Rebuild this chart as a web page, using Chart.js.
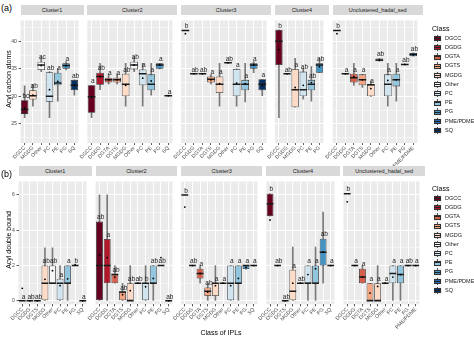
<!DOCTYPE html>
<html>
<head>
<meta charset="utf-8">
<script src="https://cdn.jsdelivr.net/npm/chart.js@4/dist/chart.umd.min.js"></script>
<style>
  body { margin: 0; background: #fff; font-family: "Liberation Sans", Arial, sans-serif; }
  #fig { position: relative; width: 474px; height: 340px; overflow: hidden; }
  #fig canvas { position: absolute; }
  .strip { position: absolute; background: #d9d9d9; color: #1a1a1a; font-size: 5.5px; text-align: center; white-space: nowrap; }
  .txt { position: absolute; color: #000; white-space: nowrap; }
  .ytitle { position: absolute; font-size: 7px; color: #000; white-space: nowrap; transform: translate(-50%, -50%) rotate(-90deg); }
  .key { position: absolute; width: 8px; height: 8.5px; background: #f2f2f2; }
  .key .wh { position: absolute; left: 3.5px; top: 0.8px; width: 1px; height: 7px; background: #555; }
  .key .bx { position: absolute; left: 0.6px; top: 2px; width: 5.4px; height: 3.2px; border: 0.8px solid #333; }
  .key .md { position: absolute; left: 0.6px; top: 3.9px; width: 7px; height: 1px; background: #222; }
  .lab { position: absolute; font-size: 5.5px; color: #1a1a1a; white-space: nowrap; }
</style>
</head>
<body>
<div id="fig"></div>
<script>
// per facet: [class, lower whisker, q1, median, q3, upper whisker, mean, letter]
const carbonCluster1 = [
  ['DGCC', 26.1, 26.8, 27.6, 29.3, 31.9, 27.8, 'bc'],
  ['MGDG', 28.2, 29.4, 30.1, 31.1, 32.2, 30.2, 'ab'],
  ['Other', 34.5, 34.8, 35.7, 36.3, 37.2, 35.6, 'ac'],
  ['PC', 26.1, 29.0, 30.0, 34.4, 34.5, 31.2, 'ab'],
  ['PE', 29.1, 32.0, 32.4, 34.3, 35.1, 32.7, 'a'],
  ['PG', 34.8, 35.0, 35.6, 36.0, 36.3, 35.6, 'a'],
  ['SQ', 30.2, 31.1, 32.0, 33.0, 33.0, 32.0, 'ab']
];
const carbonCluster2 = [
  ['DGCC', 26.1, 27.0, 29.9, 32.0, 32.0, 29.9, 'a'],
  ['DGDG', 31.2, 32.1, 33.6, 34.3, 36.0, 33.6, 'ab'],
  ['DGTA', 32.2, 32.5, 33.0, 33.4, 34.0, 33.0, 'a'],
  ['DGTS', 32.2, 32.5, 33.0, 33.4, 34.1, 33.0, 'a'],
  ['MGDG', 28.2, 30.0, 32.2, 34.1, 36.0, 32.0, 'ab'],
  ['Other', 34.5, 34.9, 35.7, 36.3, 37.2, 35.7, 'ab'],
  ['PC', 28.2, 32.0, 34.1, 34.9, 36.0, 33.3, 'a'],
  ['PE', 30.2, 31.1, 32.2, 34.0, 36.0, 32.8, 'a'],
  ['PG', 35.0, 35.0, 35.7, 36.0, 36.0, 35.7, 'a'],
  ['SQ', 30.1, 30.1, 30.1, 30.1, 30.1, 30.1, 'a']
];
const carbonCluster3 = [
  ['DGCC', 42.0, 42.0, 42.0, 42.0, 42.0, 41.4, 'b'],
  ['DGDG', 34.1, 34.1, 34.1, 34.1, 34.1, 34.1, 'ab'],
  ['DGTA', 34.1, 34.1, 34.1, 34.1, 34.1, 34.1, 'ab'],
  ['DGTS', 32.2, 32.5, 33.1, 33.6, 34.0, 33.0, 'a'],
  ['MGDG', 28.2, 30.6, 32.2, 33.6, 36.0, 32.3, 'a'],
  ['Other', 36.1, 36.1, 36.1, 36.1, 36.1, 36.1, 'ab'],
  ['PC', 28.2, 30.0, 32.2, 35.0, 35.0, 32.4, 'a'],
  ['PE', 29.0, 31.1, 32.2, 33.0, 36.0, 32.3, 'a'],
  ['PG', 34.3, 35.0, 35.7, 36.0, 36.3, 35.7, 'a'],
  ['SQ', 30.1, 31.1, 32.2, 33.1, 33.1, 32.0, 'a']
];
const carbonCluster4 = [
  ['DGCC', 26.1, 35.7, 40.0, 42.1, 42.1, 38.5, 'b'],
  ['DGDG', 34.1, 34.1, 34.1, 34.1, 34.1, 34.1, 'ab'],
  ['MGDG', 28.0, 28.0, 31.2, 35.0, 36.9, 31.6, 'a'],
  ['PC', 29.5, 30.0, 31.2, 34.5, 35.1, 32.0, 'ab'],
  ['PE', 29.1, 31.1, 32.2, 33.0, 35.4, 32.5, 'ab'],
  ['PG', 34.3, 34.3, 35.7, 36.0, 36.9, 35.4, 'ab']
];
const carbonUnclustered = [
  ['DGCC', 42.0, 42.0, 42.0, 42.0, 42.0, 41.4, 'b'],
  ['DGDG', 34.1, 34.1, 34.1, 34.1, 34.1, 34.1, 'a'],
  ['DGTA', 32.0, 32.5, 33.4, 34.1, 36.0, 33.6, 'a'],
  ['DGTS', 31.6, 32.0, 33.0, 34.0, 34.0, 33.0, 'a'],
  ['MGDG', 30.0, 30.0, 32.1, 32.1, 32.8, 31.4, 'a'],
  ['Other', 36.4, 36.4, 36.6, 36.9, 36.9, 36.6, 'ab'],
  ['PC', 28.2, 30.0, 32.2, 34.0, 36.0, 32.9, 'a'],
  ['PE', 29.1, 31.8, 33.0, 34.1, 36.0, 33.0, 'a'],
  ['PG', 35.8, 35.8, 35.8, 35.8, 35.8, 35.8, 'ab'],
  ['PME/PDME', 37.3, 37.3, 37.6, 37.9, 37.9, 37.6, 'ab']
];

const doubleCluster1 = [
  ['DGCC', 0, 0, 0, 0, 0, 0.71, 'a'],
  ['DGDG', 0, 0, 0, 0, 0, 0, 'ab'],
  ['DGTS', 0, 0, 0, 0, 0, 0, 'ab'],
  ['MGDG', 0, 0, 1, 2, 3, 1.22, 'ab'],
  ['Other', 1, 1, 1, 2, 3, 1.71, 'ab'],
  ['PC', 0, 0, 1, 1.25, 2, 0.86, 'a'],
  ['PE', 0, 1, 1, 2, 2, 1.25, 'a'],
  ['PG', 2, 2, 2, 2, 2, 2.05, 'b'],
  ['SQ', 0, 0, 0, 0, 0, 0, 'a']
];
const doubleCluster2 = [
  ['DGCC', 0, 0, 2, 4.5, 6, 2.6, 'ab'],
  ['DGDG', 0, 1, 2, 3.5, 6, 2.45, 'a'],
  ['DGTA', 1, 1, 1.5, 1.5, 2, 1.35, 'ab'],
  ['DGTS', 0, 0, 0.5, 0.5, 1, 0.35, 'ab'],
  ['MGDG', 0, 0, 0, 1, 2, 0.58, 'ab'],
  ['Other', 1, 1, 1, 1, 1, 1, 'ab'],
  ['PC', 0, 0, 1, 1, 2, 0.8, 'b'],
  ['PE', 0, 1, 1, 2, 2, 1.27, 'ab'],
  ['PG', 2, 2, 2, 2, 2, 2.45, 'ab'],
  ['SQ', 0, 0, 0, 0, 0, 0, 'ab']
];
const doubleCluster3 = [
  ['DGCC', 6, 6, 6, 6, 6, 5.31, 'b'],
  ['DGDG', 2, 2, 2, 2, 2, 2, 'ab'],
  ['DGTA', 1, 1.27, 1.55, 1.82, 2, 1.55, 'a'],
  ['DGTS', 0, 0.27, 0.54, 0.76, 1, 0.5, 'ab'],
  ['MGDG', 0, 0.27, 1, 1, 2, 0.86, 'a'],
  ['Other', 1, 1, 1, 1, 1, 1, 'a'],
  ['PC', 0, 0, 1, 2, 2, 0.86, 'a'],
  ['PE', 0, 1, 1, 2, 2, 1.27, 'a'],
  ['PG', 1.8, 1.8, 2, 2, 2, 1.9, 'a'],
  ['SQ', 2, 2, 2, 2, 2, 2, 'a']
];
const doubleCluster4 = [
  ['DGCC', 4.8, 4.8, 5.5, 6.07, 6.07, 4.58, 'b'],
  ['DGDG', 2, 2, 2, 2, 2, 2, 'ab'],
  ['DGTS', 0, 0, 0, 0, 0, 0, 'ab'],
  ['MGDG', 0, 0, 0.54, 1.76, 3.04, 1.0, 'a'],
  ['Other', 1, 1, 1, 1, 1, 1, 'ab'],
  ['PC', 0, 1, 1, 2, 2, 1.49, 'a'],
  ['PE', 0, 1, 1, 2, 3.04, 1.82, 'a'],
  ['PG', 1, 2, 2.76, 3.52, 5.03, 2.76, 'ab'],
  ['SQ', 2, 2, 2, 2, 2, 2, 'a']
];
const doubleUnclustered = [
  ['DGCC', 6.07, 6.07, 6.07, 6.07, 6.07, 5.61, 'b'],
  ['DGDG', 2, 2, 2, 2, 2, 2, 'a'],
  ['DGTA', 1, 1, 1.35, 1.82, 2, 1.35, 'a'],
  ['DGTS', 0, 0, 0, 1, 1, 0.44, 'a'],
  ['MGDG', 0, 0, 0, 1, 2, 0.82, 'a'],
  ['Other', 1, 1, 1, 1, 1, 1, 'a'],
  ['PC', 0, 1, 1.55, 2, 2, 1.35, 'a'],
  ['PE', 0, 1, 1.49, 2, 2, 1.49, 'a'],
  ['PG', 2, 2, 2, 2, 2, 2, 'ab'],
  ['PME/PDME', 2, 2, 2, 2, 2, 2, 'a']
];

const facetNames = ['Cluster1', 'Cluster2', 'Cluster3', 'Cluster4', 'Unclustered_hadal_sed'];
const classOrder = ['DGCC', 'DGDG', 'DGTA', 'DGTS', 'MGDG', 'Other', 'PC', 'PE', 'PG', 'PME/PDME', 'SQ'];
const carbonTicks = [25, 30, 35, 40];
const carbonMinor = [22.5, 27.5, 32.5, 37.5, 42.5];
const doubleTicks = [0, 2, 4, 6];
const doubleMinor = [1, 3, 5];

// RdBu, 11 steps
const classFill = ['#67001f', '#b2182b', '#d6604d', '#f4a582', '#fddbc7', '#f7f7f7',
                   '#d1e5f0', '#92c5de', '#4393c3', '#2166ac', '#053061'];
const FONT = '"Liberation Sans", Arial, sans-serif';
const PADL = 24;
const LABELH = 28;

const fig = document.getElementById('fig');

const panelBg = {
  id: 'panelBg',
  beforeDraw(chart) {
    const { ctx, chartArea: a } = chart;
    ctx.save();
    ctx.fillStyle = '#ebebeb';
    ctx.fillRect(a.left, a.top, a.right - a.left, a.bottom - a.top);
    ctx.restore();
  }
};

// significance letters sit just above the upper hinge
const letterPlugin = {
  id: 'letters',
  afterDatasetsDraw(chart, args, opts) {
    const { ctx, scales: { x, y } } = chart;
    ctx.save();
    ctx.font = '6.5px ' + FONT;
    ctx.fillStyle = '#1a1a1a';
    ctx.textAlign = 'center';
    ctx.textBaseline = 'bottom';
    opts.rows.forEach((r, i) => {
      ctx.fillText(r[7], x.getPixelForValue(i) + 1.2, y.getPixelForValue(r[4]) - 0.8);
    });
    ctx.restore();
  }
};

function addDiv(cls, text, css) {
  const d = document.createElement('div');
  d.className = cls;
  if (text) d.textContent = text;
  Object.assign(d.style, css);
  fig.appendChild(d);
  return d;
}

function drawRow(facets, ticks, minor, yMin, yMax, g) {
  const allTicks = ticks.concat(minor).sort((a, b) => a - b);
  let left = g.left;
  facets.forEach((rows, fi) => {
    const w = rows.length * g.unit;
    const sh = g.top - g.stripTop;
    addDiv('strip', facetNames[fi], { left: left + 'px', top: g.stripTop + 'px', width: w + 'px',
      height: sh + 'px', lineHeight: sh + 'px' });

    const cvLeft = Math.floor(left - PADL);
    const yw = left - cvLeft;
    const cv = document.createElement('canvas');
    cv.width = Math.ceil(yw + w);
    cv.height = Math.ceil(g.height + LABELH);
    cv.style.left = cvLeft + 'px';
    cv.style.top = g.top + 'px';
    fig.appendChild(cv);
    const first = fi === 0;

    new Chart(cv, {
      type: 'bar',
      data: {
        labels: rows.map(r => r[0]),
        datasets: [
          { type: 'bar', data: rows.map(r => [r[1], r[5]]), backgroundColor: '#7a7a7a',
            barThickness: 1, grouped: false, order: 3 },
          { type: 'bar', data: rows.map(r => [r[2], r[4]]),
            backgroundColor: rows.map(r => classFill[classOrder.indexOf(r[0])]),
            borderColor: '#333', borderWidth: 0.8, borderSkipped: false,
            barPercentage: 0.9, categoryPercentage: 1, grouped: false, order: 2 },
          { type: 'line', data: rows.map(r => r[3]), showLine: false, pointStyle: 'line',
            pointRadius: c => c.chart.chartArea ? (c.chart.chartArea.right - c.chart.chartArea.left) / rows.length * 0.45 : 4,
            pointBorderWidth: 1.5, pointBorderColor: '#1a1a1a', order: 1 },
          { type: 'line', data: rows.map(r => r[6]), showLine: false, pointStyle: 'circle',
            pointRadius: 0.9, pointBackgroundColor: '#000', pointBorderWidth: 0, order: 0 }
        ]
      },
      options: {
        responsive: false,
        animation: false,
        events: [],
        layout: { padding: { left: 0, top: 0, right: cv.width - yw - w, bottom: cv.height - g.height - LABELH } },
        plugins: { legend: { display: false }, tooltip: { enabled: false }, letters: { rows } },
        scales: {
          x: {
            offset: true,
            grid: { offset: false, color: '#ffffff', lineWidth: 1, tickColor: '#333', tickLength: 2, tickWidth: 0.8 },
            border: { display: false },
            ticks: { autoSkip: false, minRotation: 45, maxRotation: 45, padding: 0, color: '#4d4d4d',
                     font: { size: 5.2, family: FONT } },
            afterFit: s => { s.height = LABELH; s.paddingLeft = 0; s.paddingRight = 0; }
          },
          y: {
            min: yMin, max: yMax,
            grid: {
              color: '#ffffff',
              lineWidth: c => ticks.includes(c.tick && c.tick.value) ? 1 : 0.5,
              tickColor: c => first && ticks.includes(c.tick && c.tick.value) ? '#333' : 'rgba(0,0,0,0)',
              tickLength: 2, tickWidth: 0.8
            },
            border: { display: false },
            ticks: { display: first, padding: 1.5, color: '#4d4d4d', font: { size: 5.2, family: FONT },
                     callback: v => ticks.includes(v) ? String(v) : '' },
            afterBuildTicks: s => { s.ticks = allTicks.map(v => ({ value: v })); },
            afterFit: s => { s.width = yw; s.paddingTop = 0; s.paddingBottom = 0; }
          }
        }
      },
      plugins: [panelBg, letterPlugin]
    });
    left += w + g.gap;
  });
}

function drawLegend(top) {
  addDiv('txt', 'Class', { left: '432px', top: (top - 13) + 'px', fontSize: '7px' });
  classOrder.forEach((name, i) => {
    const y = top + i * 9.2;
    const k = addDiv('key', '', { left: '433.5px', top: (y - 4.2) + 'px' });
    const wh = document.createElement('div'); wh.className = 'wh'; k.appendChild(wh);
    const bx = document.createElement('div'); bx.className = 'bx'; bx.style.background = classFill[i]; k.appendChild(bx);
    const md = document.createElement('div'); md.className = 'md'; k.appendChild(md);
    addDiv('lab', name, { left: '445px', top: (y - 3.5) + 'px' });
  });
}

drawRow([carbonCluster1, carbonCluster2, carbonCluster3, carbonCluster4, carbonUnclustered],
  carbonTicks, carbonMinor, 21.5, 43.8,
  { left: 20.5, unit: 9.0, gap: 3.8, stripTop: 4.5, top: 15, height: 128 });
drawRow([doubleCluster1, doubleCluster2, doubleCluster3, doubleCluster4, doubleUnclustered],
  doubleTicks, doubleMinor, -0.2, 6.76,
  { left: 18.5, unit: 8.15, gap: 3.8, stripTop: 165.5, top: 176, height: 128.4 });

addDiv('txt', '(a)', { left: '1px', top: '3px', fontSize: '9px' });
addDiv('txt', '(b)', { left: '1px', top: '169px', fontSize: '9px' });
addDiv('ytitle', 'Acyl carbon atoms', { left: '8px', top: '79px' });
addDiv('ytitle', 'Acyl double bound', { left: '8px', top: '240px' });
addDiv('txt', 'Class of IPLs', { left: '221px', top: '329px', fontSize: '7px', transform: 'translateX(-50%)' });
drawLegend(38.3);
drawLegend(198.3);
</script>
</body>
</html>
